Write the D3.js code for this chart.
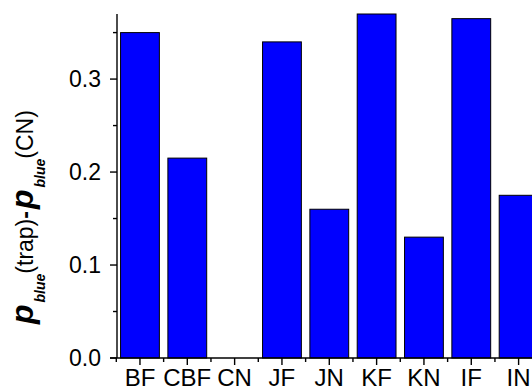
<!DOCTYPE html>
<html>
<head>
<meta charset="utf-8">
<script src="https://cdn.jsdelivr.net/npm/d3@7"></script>
<style>
  html, body { margin: 0; padding: 0; background: #fff; }
  svg { display: block; font-family: "Liberation Sans", Arial, sans-serif; }
</style>
</head>
<body>
<svg id="chart" width="532" height="391"></svg>
<script>
// Difference in blue-choice probability, each trap relative to CN
const categories = ["BF", "CBF", "CN", "JF", "JN", "KF", "KN", "IF", "IN"];
const values = [0.35, 0.215, 0.0, 0.34, 0.16, 0.37, 0.13, 0.365, 0.175];
const yTicks = [0.0, 0.1, 0.2, 0.3];
const yMinorTicks = [0.05, 0.15, 0.25, 0.35];

const svg = d3.select("#chart");
const plotLeft = 117, plotBottom = 358, plotTop = 14;

const x = d3.scaleBand()
  .domain(categories)
  .range([116.3, 116.3 + 47.33 * categories.length])
  .paddingInner(0.18)
  .paddingOuter(0.09);

const y = d3.scaleLinear().domain([0, 0.37]).range([plotBottom, plotTop]);

// bars
svg.append("g").selectAll("rect")
  .data(categories.map((c, i) => ({ c, v: values[i] })))
  .join("rect")
  .attr("x", d => x(d.c))
  .attr("width", x.bandwidth())
  .attr("y", d => y(d.v))
  .attr("height", d => y(0) - y(d.v))
  .attr("fill", "#0000ff")
  .attr("stroke", "#000")
  .attr("stroke-width", 1);

// y axis
const yAxis = svg.append("g").attr("transform", `translate(${plotLeft},0)`);
yAxis.append("line")
  .attr("x1", 0).attr("x2", 0).attr("y1", plotTop).attr("y2", plotBottom)
  .attr("stroke", "#000").attr("stroke-width", 1.4);
yAxis.selectAll("line.major").data(yTicks).join("line")
  .attr("class", "major")
  .attr("x1", -7).attr("x2", 0)
  .attr("y1", d => y(d)).attr("y2", d => y(d))
  .attr("stroke", "#000").attr("stroke-width", 1.4);
yAxis.selectAll("line.minor").data(yMinorTicks).join("line")
  .attr("class", "minor")
  .attr("x1", -4).attr("x2", 0)
  .attr("y1", d => y(d)).attr("y2", d => y(d))
  .attr("stroke", "#000").attr("stroke-width", 1.4);
yAxis.selectAll("text").data(yTicks).join("text")
  .attr("x", -16)
  .attr("y", d => y(d))
  .attr("dy", "0.34em")
  .attr("text-anchor", "end")
  .attr("font-size", 23)
  .attr("fill", "#000")
  .text(d => d3.format(".1f")(d));

// x axis
const xAxis = svg.append("g").attr("transform", `translate(0,${plotBottom})`);
xAxis.append("line")
  .attr("x1", plotLeft - 7).attr("x2", 532)
  .attr("stroke", "#000").attr("stroke-width", 1.4);
xAxis.selectAll("line.major").data(categories).join("line")
  .attr("class", "major")
  .attr("x1", d => x(d) + x.bandwidth() / 2).attr("x2", d => x(d) + x.bandwidth() / 2)
  .attr("y1", 0).attr("y2", 7)
  .attr("stroke", "#000").attr("stroke-width", 1.4);
xAxis.selectAll("line.minor").data(categories).join("line")
  .attr("class", "minor")
  .attr("x1", d => x(d) - x.step() * x.paddingInner() / 2)
  .attr("x2", d => x(d) - x.step() * x.paddingInner() / 2)
  .attr("y1", 0).attr("y2", 4)
  .attr("stroke", "#000").attr("stroke-width", 1.4);
xAxis.selectAll("text").data(categories).join("text")
  .attr("x", d => x(d) + x.bandwidth() / 2)
  .attr("y", 27.5)
  .attr("text-anchor", "middle")
  .attr("font-size", 24)
  .attr("fill", "#000")
  .text(d => d);

// y axis title: p_blue(trap) - p_blue(CN)
const title = svg.append("text")
  .attr("transform", "translate(33,324) rotate(-90)")
  .attr("text-anchor", "start")
  .attr("font-size", 23)
  .attr("fill", "#000");
function addP(dx) {
  title.append("tspan").attr("dx", dx).attr("font-weight", "bold").attr("font-style", "italic")
    .attr("font-size", 32).text("p");
  title.append("tspan").attr("font-weight", "bold").attr("font-style", "italic")
    .attr("font-size", 14).attr("dx", 2).attr("dy", 12).text("blue");
}
addP(0);
title.append("tspan").attr("dy", -12).text("(trap)");
title.append("tspan").attr("font-weight", "bold").text("-");
addP(2);
title.append("tspan").attr("dy", -12).text("(CN)");
</script>
</body>
</html>
